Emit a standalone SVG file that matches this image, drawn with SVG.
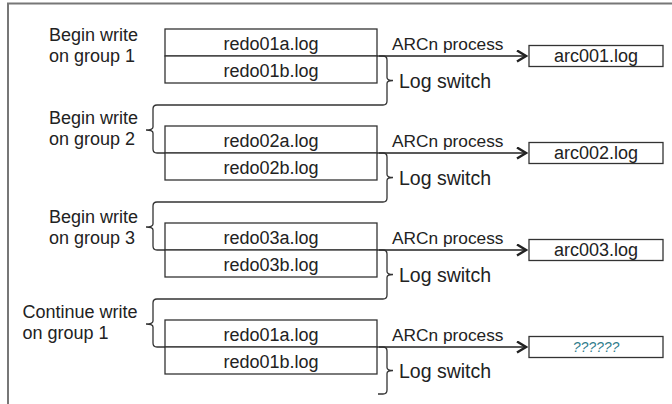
<svg xmlns="http://www.w3.org/2000/svg" width="672" height="404" viewBox="0 0 672 404">
<style>
text{font-family:"Liberation Sans",Arial,sans-serif;fill:#222}
.lbl{font-size:18px}
.box{fill:#fff;stroke:#333;stroke-width:1.3}
.redo{font-size:18px;text-anchor:middle}
.arc{font-size:18px;text-anchor:middle}
.proc{font-size:17.3px}
.sw{font-size:19.5px}
.ln{fill:none;stroke:#333;stroke-width:1.3}
.arr{fill:none;stroke:#222;stroke-width:1.6}
</style>
<defs>
<marker id="chev" markerWidth="12" markerHeight="14" refX="10" refY="6" orient="auto" markerUnits="userSpaceOnUse">
<path d="M1,0.5 L10,6 L1,11.5" fill="none" stroke="#222" stroke-width="2.4"/>
</marker>
</defs>
<rect width="672" height="404" fill="#fff"/>
<path d="M8,404 V3.5 H672" fill="none" stroke="#777" stroke-width="2"/>

<g id="connectors">
<path class="arr" d="M379,56 H526" marker-end="url(#chev)"/>
<path class="arr" d="M379,153 H526" marker-end="url(#chev)"/>
<path class="arr" d="M379,250 H526" marker-end="url(#chev)"/>
<path class="arr" d="M379,347 H526" marker-end="url(#chev)"/>
<path class="ln" d="M377,56 H383 Q387,56 387,60 V77.5 Q387,80.5 393,80.5 Q387,80.5 387,83.5 V101 Q387,105 383,105 H157 Q153,105 153,109 V127 Q153,130 146,130 Q153,130 153,133 V149 Q153,153 157,153 H165"/>
<path class="ln" d="M377,153 H383 Q387,153 387,157 V174.5 Q387,177.5 393,177.5 Q387,177.5 387,180.5 V198 Q387,202 383,202 H157 Q153,202 153,206 V224 Q153,227 146,227 Q153,227 153,230 V246 Q153,250 157,250 H165"/>
<path class="ln" d="M377,250 H383 Q387,250 387,254 V271.5 Q387,274.5 393,274.5 Q387,274.5 387,277.5 V295 Q387,299 383,299 H157 Q153,299 153,303 V321 Q153,324 146,324 Q153,324 153,327 V343 Q153,347 157,347 H165"/>
<path class="ln" d="M377,347 H383 Q387,347 387,351 V367.5 Q387,370.5 393,370.5 Q387,370.5 387,373.5 V390 Q387,394 383,394 H378"/>
<text class="proc" x="392" y="49.5">ARCn process</text>
<text class="proc" x="392" y="146.5">ARCn process</text>
<text class="proc" x="392" y="243.5">ARCn process</text>
<text class="proc" x="392" y="340.5">ARCn process</text>
<text class="sw" x="399" y="87.5">Log switch</text>
<text class="sw" x="399" y="184.5">Log switch</text>
<text class="sw" x="399" y="281.5">Log switch</text>
<text class="sw" x="399" y="377.5">Log switch</text>
</g>

<g id="label1"><text class="lbl" x="49" y="41">Begin write</text><text class="lbl" x="49" y="62">on group 1</text></g>
<g id="label2"><text class="lbl" x="49" y="123.5">Begin write</text><text class="lbl" x="49" y="144.5">on group 2</text></g>
<g id="label3"><text class="lbl" x="49" y="222.5">Begin write</text><text class="lbl" x="49" y="243.5">on group 3</text></g>
<g id="label4"><text class="lbl" x="22.5" y="318">Continue write</text><text class="lbl" x="22.5" y="339">on group 1</text></g>

<g id="group1">
<rect class="box" x="165" y="29" width="212" height="27"/>
<rect class="box" x="165" y="56" width="212" height="27"/>
<text class="redo" x="271" y="50">redo01a.log</text>
<text class="redo" x="271" y="77">redo01b.log</text>
</g>
<g id="group2">
<rect class="box" x="165" y="126" width="212" height="27"/>
<rect class="box" x="165" y="153" width="212" height="27"/>
<text class="redo" x="271" y="147">redo02a.log</text>
<text class="redo" x="271" y="174">redo02b.log</text>
</g>
<g id="group3">
<rect class="box" x="165" y="223" width="212" height="27"/>
<rect class="box" x="165" y="250" width="212" height="27"/>
<text class="redo" x="271" y="244">redo03a.log</text>
<text class="redo" x="271" y="271">redo03b.log</text>
</g>
<g id="group4">
<rect class="box" x="165" y="320" width="212" height="27"/>
<rect class="box" x="165" y="347" width="212" height="27"/>
<text class="redo" x="271" y="341">redo01a.log</text>
<text class="redo" x="271" y="368">redo01b.log</text>
</g>

<g id="arc1"><rect class="box" x="529" y="45.5" width="134" height="21"/><text class="arc" x="596" y="62">arc001.log</text></g>
<g id="arc2"><rect class="box" x="529" y="142.5" width="134" height="21"/><text class="arc" x="596" y="159">arc002.log</text></g>
<g id="arc3"><rect class="box" x="529" y="239.5" width="134" height="21"/><text class="arc" x="596" y="256">arc003.log</text></g>
<g id="arc4"><rect class="box" x="529" y="336.5" width="134" height="21"/><text x="596" y="352" style="font-size:14px;font-style:italic;text-anchor:middle;fill:#2f7d8c">??????</text></g>
</svg>
